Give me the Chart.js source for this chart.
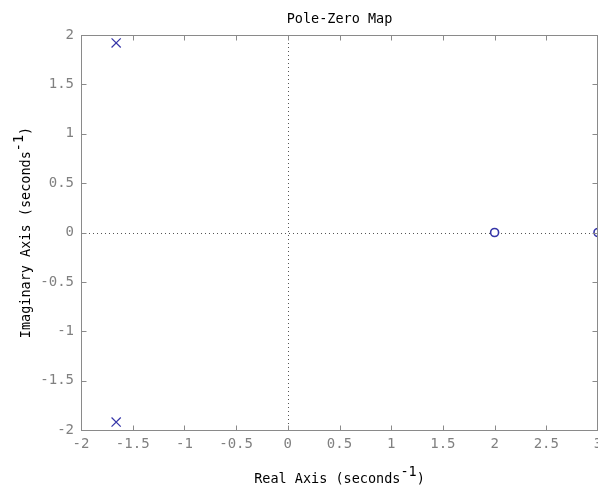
<!DOCTYPE html>
<html>
<head>
<meta charset="utf-8">
<title>Pole-Zero Map</title>
<script src="https://cdn.jsdelivr.net/npm/chart.js@4"></script>
<style>
	html, body { margin: 0; padding: 0; background: #fff; }
	#pz { display: block; }
</style>
</head>
<body>
<canvas id="pz" width="598" height="490"></canvas>
<script>
// pole / zero locations
const poleRe = [-1.66, -1.66];
const poleIm = [1.92, -1.92];
const zeroRe = [2, 3];
const zeroIm = [0, 0];

const xLimits = [-2, 3];
const yLimits = [-2, 2];
const tickStep = 0.5;

const chartTitle = 'Pole-Zero Map';
const xTitle = ['Real Axis (seconds', '-1', ')'];
const yTitle = ['Imaginary Axis (seconds', '-1', ')'];

(function initPZ(){
	const MONO = '"DejaVu Sans Mono", "Liberation Mono", monospace';
	const markColor = '#3535a8';
	const axisColor = '#8a8a8a';

	const toPts = (re, im) => re.map((r, i) => ({ x: r, y: im[i] }));

	function drawSupText(ctx, parts, cx, cy){
		const [main, sup, tail] = parts;
		const w1 = ctx.measureText(main).width;
		const w2 = ctx.measureText(sup).width;
		const w3 = ctx.measureText(tail).width;
		let x = cx - (w1 + w2 + w3) / 2;
		ctx.textAlign = 'left';
		ctx.textBaseline = 'middle';
		ctx.fillText(main, x, cy);
		x += w1;
		ctx.fillText(sup, x, cy - 7);
		x += w2;
		ctx.fillText(tail, x, cy);
	}

	// box, inward ticks, dotted zero lines and titles
	const matlabLook = {
		id: 'matlabLook',
		beforeDatasetsDraw(chart){
			const { ctx, chartArea: a, scales } = chart;
			const xs = scales.x, ys = scales.y;
			ctx.save();
			ctx.strokeStyle = '#555';
			ctx.lineWidth = 1;
			ctx.setLineDash([1, 3]);
			const x0 = Math.round(xs.getPixelForValue(0)) + 0.5;
			const y0 = Math.round(ys.getPixelForValue(0)) + 0.5;
			ctx.beginPath();
			ctx.moveTo(x0, a.top); ctx.lineTo(x0, a.bottom);
			ctx.moveTo(a.left, y0); ctx.lineTo(a.right, y0);
			ctx.stroke();
			ctx.restore();
		},
		afterDraw(chart){
			const { ctx, chartArea: a, scales } = chart;
			const xs = scales.x, ys = scales.y;
			const L = Math.round(a.left) + 0.5, R = Math.round(a.right) - 0.5;
			const T = Math.round(a.top) + 0.5, B = Math.round(a.bottom) + 0.5;
			ctx.save();
			ctx.strokeStyle = axisColor;
			ctx.lineWidth = 1;
			ctx.strokeRect(L, T, R - L, B - T);
			ctx.beginPath();
			xs.ticks.forEach(t => {
				const px = Math.round(xs.getPixelForValue(t.value)) + 0.5;
				ctx.moveTo(px, B); ctx.lineTo(px, B - 5);
				ctx.moveTo(px, T); ctx.lineTo(px, T + 5);
			});
			ys.ticks.forEach(t => {
				const py = Math.round(ys.getPixelForValue(t.value)) + 0.5;
				ctx.moveTo(L, py); ctx.lineTo(L + 5, py);
				ctx.moveTo(R, py); ctx.lineTo(R - 5, py);
			});
			ctx.stroke();

			ctx.fillStyle = '#000';
			ctx.font = '13.5px ' + MONO;
			ctx.textAlign = 'center';
			ctx.textBaseline = 'middle';
			const cx = (a.left + a.right) / 2;
			const cy = (a.top + a.bottom) / 2;
			ctx.fillText(chartTitle, cx, 19);

			drawSupText(ctx, xTitle, cx, 479);

			ctx.translate(26, cy);
			ctx.rotate(-Math.PI / 2);
			drawSupText(ctx, yTitle, 0, 0);
			ctx.restore();
		}
	};

	function fixAxis(size){
		return function(s){
			if (s.isHorizontal()) s.height = size; else s.width = size;
			s.paddingLeft = 0; s.paddingRight = 0;
			s.paddingTop = 0; s.paddingBottom = 0;
		};
	}

	const tickFont = { family: MONO, size: 14 };

	new Chart(document.getElementById('pz'), {
		type: 'scatter',
		data: {
			datasets: [
				{
					label: 'Poles',
					data: toPts(poleRe, poleIm),
					pointStyle: 'crossRot',
					pointRadius: 6.5,
					pointHoverRadius: 6.5,
					pointBorderWidth: 1.2,
					borderColor: markColor,
					backgroundColor: markColor
				},
				{
					label: 'Zeros',
					data: toPts(zeroRe, zeroIm),
					pointStyle: 'circle',
					pointRadius: 4,
					pointHoverRadius: 4,
					pointBorderWidth: 1.6,
					borderColor: markColor,
					backgroundColor: '#fff'
				}
			]
		},
		options: {
			responsive: false,
			animation: false,
			devicePixelRatio: 1,
			clip: false,
			// the plot box runs right up to the canvas edge, cutting the last x label
			layout: { autoPadding: false, padding: { top: 35, left: 0, right: 0, bottom: 0 } },
			plugins: { legend: { display: false }, title: { display: false }, tooltip: { enabled: false } },
			scales: {
				x: {
					type: 'linear',
					min: xLimits[0],
					max: xLimits[1],
					afterFit: fixAxis(60),
					grid: { display: false, drawTicks: false },
					border: { display: false },
					ticks: {
						stepSize: tickStep,
						padding: 6,
						color: '#808080',
						font: tickFont,
						maxRotation: 0,
						autoSkip: false,
						callback: v => String(v)
					}
				},
				y: {
					type: 'linear',
					min: yLimits[0],
					max: yLimits[1],
					afterFit: fixAxis(81),
					grid: { display: false, drawTicks: false },
					border: { display: false },
					ticks: {
						stepSize: tickStep,
						padding: 7,
						color: '#808080',
						font: tickFont,
						autoSkip: false,
						callback: v => String(v)
					}
				}
			}
		},
		plugins: [matlabLook]
	});
})();
</script>
</body>
</html>
